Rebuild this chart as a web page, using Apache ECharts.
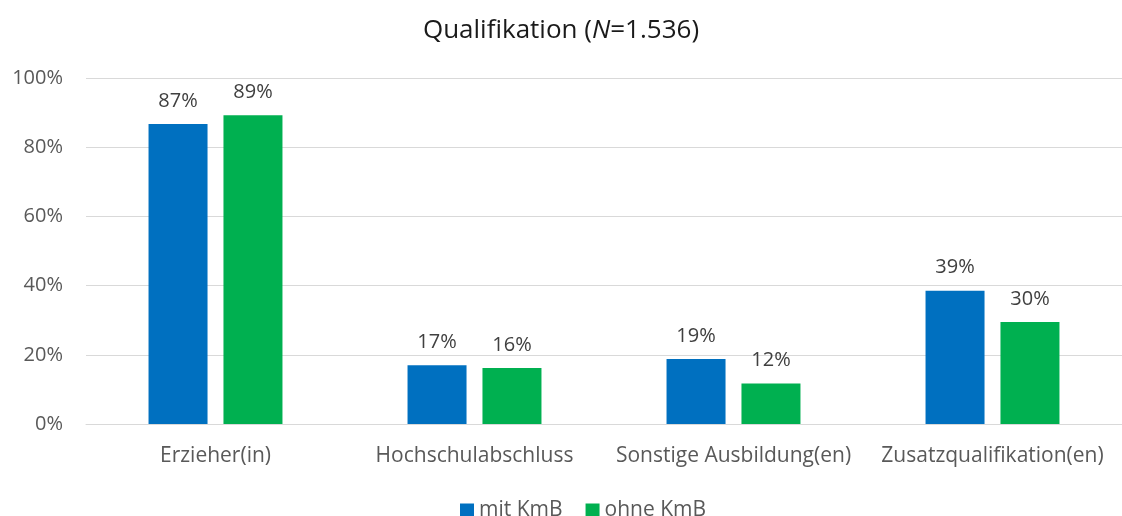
<!DOCTYPE html>
<html>
<head>
<meta charset="utf-8">
<script src="https://cdn.jsdelivr.net/npm/echarts@6/dist/echarts.min.js"></script>
<style>
    html, body { margin: 0; padding: 0; background: #fff; }
    #main { width: 1122px; height: 516px; }
</style>
</head>
<body>
<div id="main"></div>
<script>
var categories = ['Erzieher(in)', 'Hochschulabschluss', 'Sonstige Ausbildung(en)', 'Zusatzqualifikation(en)'];
var mitKmB = [86.7, 17.0, 18.8, 38.5];
var ohneKmB = [89.2, 16.2, 11.7, 29.5];
var yTicks = [0, 20, 40, 60, 80, 100];

var fontName = 'Open Sans';

var myChart = echarts.init(document.getElementById('main'));

function barLabel() {
    return {
        show: true,
        position: 'top',
        distance: 13,
        color: '#404040',
        fontFamily: fontName,
        fontSize: 20,
        formatter: function (p) {
            return Math.round(p.value) + '%';
        }
    };
}

option = {
    animation: false,
    backgroundColor: '#fff',
    title: {
        text: 'Qualifikation ({i|N}=1.536)',
        left: 'center',
        top: 13,
        textStyle: {
            color: '#1a1a1a',
            fontFamily: fontName,
            fontWeight: 'normal',
            fontSize: 26,
            rich: {
                i: {
                    fontStyle: 'italic',
                    color: '#1a1a1a',
                    fontFamily: fontName,
                    fontSize: 26
                }
            }
        }
    },
    legend: {
        bottom: -10,
        left: 455,
        itemWidth: 14,
        itemHeight: 14,
        itemGap: 23,
        icon: 'rect',
        textStyle: {
            color: '#595959',
            fontFamily: fontName,
            fontSize: 21
        },
        data: ['mit KmB', 'ohne KmB']
    },
    grid: {
        left: 86,
        top: 78,
        width: 1047,
        bottom: 92
    },
    xAxis: {
        type: 'category',
        data: categories,
        axisLine: {
            lineStyle: { color: '#d9d9d9', width: 1 }
        },
        axisTick: { show: false },
        axisLabel: {
            interval: 0,
            margin: 22,
            color: '#595959',
            fontFamily: fontName,
            fontSize: 21
        }
    },
    yAxis: {
        type: 'value',
        min: yTicks[0],
        max: yTicks[yTicks.length - 1],
        interval: 20,
        axisLine: { show: false },
        axisTick: { show: false },
        splitLine: {
            lineStyle: { color: '#d9d9d9', width: 1 }
        },
        axisLabel: {
            margin: 23,
            color: '#595959',
            fontFamily: fontName,
            fontSize: 20,
            formatter: '{value}%'
        }
    },
    series: [
        {
            name: 'mit KmB',
            type: 'bar',
            barWidth: 59,
            barGap: '27%',
            itemStyle: { color: '#0070c0' },
            label: barLabel(),
            data: mitKmB
        },
        {
            name: 'ohne KmB',
            type: 'bar',
            barWidth: 59,
            barGap: '27%',
            itemStyle: { color: '#00b050' },
            label: barLabel(),
            data: ohneKmB
        }
    ]
};
myChart.setOption(option);
</script>
</body>
</html>
